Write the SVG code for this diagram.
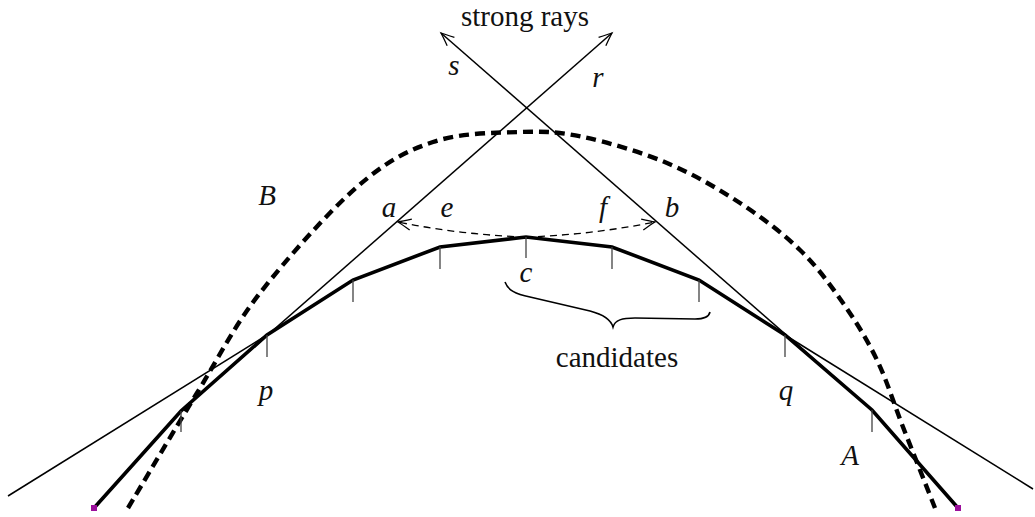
<svg xmlns="http://www.w3.org/2000/svg" width="1035" height="517" viewBox="0 0 1035 517">
<style>
.thin{fill:none;stroke:#000;stroke-width:1.5}
.poly{fill:none;stroke:#000;stroke-width:3.6;stroke-linejoin:miter}
.tick{fill:none;stroke:#444;stroke-width:1.3}
.dcurve{fill:none;stroke:#000;stroke-width:4.4;stroke-dasharray:10 6}
.darrow{fill:none;stroke:#000;stroke-width:1.3;stroke-dasharray:7 5}
.lbl{font-family:"Liberation Serif","DejaVu Serif",serif;font-style:italic;font-size:29px;fill:#111;text-anchor:middle}
.txt{font-family:"Liberation Serif","DejaVu Serif",serif;font-size:29px;fill:#111;text-anchor:middle}
.end{fill:#9b0f9b}
</style>
<defs>
<marker id="head" markerUnits="userSpaceOnUse" viewBox="-16 -8 18 16" refX="0" refY="0" markerWidth="18" markerHeight="16" orient="auto" overflow="visible">
<path d="M-13,-5.5 Q-4,-1.5 0,0 Q-4,1.5 -13,5.5" fill="none" stroke="#000" stroke-width="1.3"/>
</marker>
</defs>
<g id="curve-B">
<path class="dcurve" d="M128,508 C139.5,488.8 175,428.8 197,393 C219,357.2 233.3,327.3 260,293 C286.7,258.7 328.2,212.2 357,187 C385.8,161.8 405.8,151.2 433,142 C460.2,132.8 495,132.8 520,132 C545,131.2 558.5,131.8 583,137 C607.5,142.2 640.8,152 667,163 C693.2,174 717.8,188.5 740,203 C762.2,217.5 782.8,233.3 800,250 C817.2,266.7 830.2,284.7 843,303 C855.8,321.3 867,339.3 877,360 C887,380.7 893.3,402.3 903,427 C912.7,451.7 929.7,494.5 935,508"/>
</g>
<g id="connectors">
<line class="thin" x1="181" y1="411" x2="612" y2="33" marker-end="url(#head)"/>
<line class="thin" x1="872" y1="410" x2="441" y2="33" marker-end="url(#head)"/>
<line class="thin" x1="8" y1="496" x2="267" y2="335"/>
<line class="thin" x1="785" y1="335" x2="1033" y2="489"/>
<path class="darrow" d="M526,237 Q462,235 398,222" marker-end="url(#head)"/>
<path class="darrow" d="M526,237 Q590,235 655,222" marker-end="url(#head)"/>
</g>
<g id="polyline-A">
<polyline class="poly" points="94,508 181,411 267,335 353,280 440,247 526,237 612,247 699,280 785,335 872,410 958,508"/>
<path class="tick" d="M181,411V432M267,335V357M353,280V302M440,247V269M526,237V258M612,247V269M699,280V302M785,335V357M872,410V432"/>
<rect class="end" x="91" y="505" width="6" height="6"/>
<rect class="end" x="955" y="505" width="6" height="6"/>
</g>
<g id="brace">
<path fill="none" stroke="#000" stroke-width="1.6" d="M505,282 C508,290 515,294 530,297 L590,311 C605,315 611,320 613,327 C615,320 622,318 635,318 L695,319 C704,319 709,317 710,312"/>
</g>
<g id="labels">
<text class="txt" x="525" y="26">strong rays</text>
<text class="txt" x="617" y="367">candidates</text>
<text class="lbl" x="454" y="75">s</text>
<text class="lbl" x="598" y="87">r</text>
<text class="lbl" x="267" y="205">B</text>
<text class="lbl" x="389" y="217">a</text>
<text class="lbl" x="447" y="217">e</text>
<text class="lbl" x="603" y="217">f</text>
<text class="lbl" x="672" y="217">b</text>
<text class="lbl" x="526" y="282">c</text>
<text class="lbl" x="266" y="400">p</text>
<text class="lbl" x="786" y="400">q</text>
<text class="lbl" x="850" y="465">A</text>
</g>
</svg>
